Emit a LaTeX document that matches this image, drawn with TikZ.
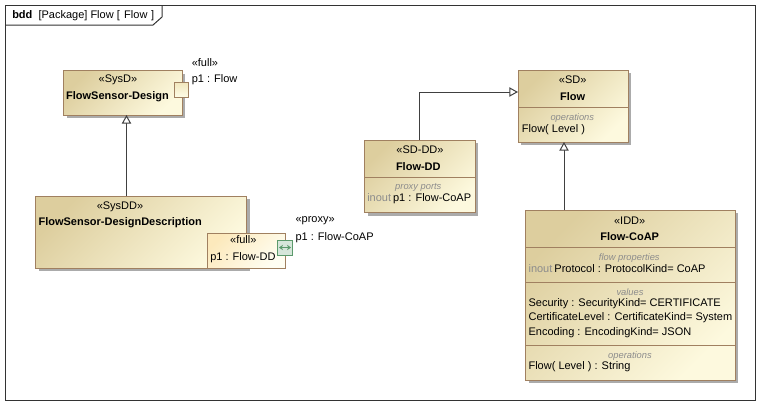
\documentclass[tikz,border=0pt]{standalone}
\usepackage{fontspec}
\setmainfont{Liberation Sans}
\usetikzlibrary{arrows.meta,shadows}
\definecolor{boxline}{HTML}{A08060}
\definecolor{tanA}{HTML}{DDCE9E}
\definecolor{tanB}{HTML}{FDF9DE}
\definecolor{partA}{HTML}{FCE9BC}
\definecolor{partB}{HTML}{FFFEF2}
\definecolor{portA}{HTML}{F1E6BC}
\definecolor{portB}{HTML}{FEFCE6}
\definecolor{portline}{HTML}{5C9A6C}
\tikzset{
  block/.style={draw=boxline,line width=.75pt,inner sep=0pt,outer sep=0pt,
    top color=tanA,bottom color=tanB,shading angle=45,
    drop shadow={shadow xshift=2.25pt,shadow yshift=-2.25pt,fill=black!33,opacity=1}},
  part/.style={draw=boxline,line width=.75pt,inner sep=0pt,outer sep=0pt,
    top color=partA,bottom color=partB,shading angle=45},
  stereo/.style={inner sep=0pt,yshift=-.5pt,font=\fontsize{8.25}{10}\selectfont},
  ttl/.style={stereo,font=\fontsize{8.25}{10}\selectfont\bfseries},
  member/.style={stereo,anchor=west},
  cmpt/.style={stereo,text=black!45,font=\fontsize{7}{9}\selectfont\itshape},
  divide/.style={draw=boxline,line width=.75pt},
  gen/.style={draw=black!75,line width=.75pt,-{Triangle[open,fill=white,length=6.5pt,width=7pt]}}
}
\newcommand{\io}{\textcolor{black!45}{inout}\hspace{1.5pt}}
\begin{document}
\begin{tikzpicture}[x=.75pt,y=-.75pt]
  \useasboundingbox (0,0) rectangle (760,405);
  % frame
  \draw[black!80,line width=.75pt] (5.5,5.5) rectangle (755,400);
  \draw[black!80,line width=.75pt] (5.5,25) -- (153,25) -- (162,17) -- (162,5.5);
  \node[member] (frameTitle) at (12,14.5) {\textbf{bdd}\; [Package] Flow [\hspace{1pt} Flow\hspace{.5pt} ]};

  % left side
  \node[block,minimum width=118.5*.75pt,minimum height=44.5*.75pt] (design) at (122.75,92.75) {};
  \node[part,top color=portA,bottom color=portB,minimum width=14.5*.75pt,minimum height=15*.75pt] (designPort) at (181.25,89.5) {};
  \node[stereo] (designS) at (118,79.5) {«SysD»};
  \node[ttl] (designT) at (117.5,96) {FlowSensor-Design};
  \node[member] (portS) at (191.5,61.5) {«full»};
  \node[member] (portT) at (191.5,78.5) {p1 : Flow};

  \node[block,minimum width=211*.75pt,minimum height=72*.75pt] (sysdd) at (141,232) {};
  \node[stereo] (sysddS) at (120,205.7) {«SysDD»};
  \node[member,font=\fontsize{8.25}{10}\selectfont\bfseries] (sysddT) at (38.3,222.3) {FlowSensor-DesignDescription};
  \node[part,minimum width=78*.75pt,minimum height=35*.75pt] (fullPart) at (246.5,250.5) {};
  \node[stereo] (fullS) at (243.3,239.3) {«full»};
  \node[member] (fullT) at (210,256.7) {p1 : Flow-DD};
  \node[draw=portline,line width=.75pt,fill=portline!25,minimum width=15.5*.75pt,minimum height=15*.75pt,inner sep=0pt] (proxyPort) at (285,247.5) {};
  \draw[portline,line width=.6pt,{Stealth[length=3pt,width=4pt]}-{Stealth[length=3pt,width=4pt]}] ([xshift=-4.5pt]proxyPort.center) -- ([xshift=4.5pt]proxyPort.center);
  \node[member] (proxyS) at (295.3,220) {«proxy»};
  \node[member] (proxyT) at (295.3,236.7) {p1 : Flow-CoAP};

  % middle
  \node[block,minimum width=110.5*.75pt,minimum height=72.5*.75pt] (flowdd) at (419.75,176.35) {};
  \draw[divide] (flowdd.west |- 0,177) -- (flowdd.east |- 0,177);
  \node[stereo] (flowddS) at (420,149.3) {«SD-DD»};
  \node[ttl] (flowddT) at (418.3,166) {Flow-DD};
  \node[cmpt] (flowddC) at (418.3,187) {proxy ports};
  \node[member] (flowddM) at (367,198.3) {\io p1 : Flow-CoAP};

  % right side
  \node[block,minimum width=110*.75pt,minimum height=72*.75pt] (flow) at (573,106) {};
  \draw[divide] (flow.west |- 0,107) -- (flow.east |- 0,107);
  \node[stereo] (flowS) at (572.7,79.3) {«SD»};
  \node[ttl] (flowT) at (572.7,96) {Flow};
  \node[cmpt] (flowC) at (572.3,117) {operations};
  \node[member] (flowM) at (521.7,128.7) {Flow( Level )};

  \node[block,minimum width=209.5*.75pt,minimum height=170*.75pt] (coap) at (630.25,295) {};
  \foreach \y in {247,282,345}
    \draw[divide] (coap.west |- 0,\y) -- (coap.east |- 0,\y);
  \node[stereo] (coapS) at (629.7,219.7) {«IDD»};
  \node[ttl] (coapT) at (629.7,236) {Flow-CoAP};
  \node[cmpt] (coapC1) at (629.3,257) {flow properties};
  \node[member] (coapM1) at (528.3,268) {\io Protocol : ProtocolKind= CoAP};
  \node[cmpt] (coapC2) at (630,291.7) {values};
  \node[member] (coapM2) at (528.3,303.3) {Security : SecurityKind= CERTIFICATE};
  \node[member] (coapM3) at (528.3,317.3) {CertificateLevel : CertificateKind= System};
  \node[member] (coapM4) at (528.3,331.7) {Encoding : EncodingKind= JSON};
  \node[cmpt] (coapC3) at (630,355) {operations};
  \node[member] (coapM5) at (528.3,366.3) {Flow( Level ) : String};

  % generalizations
  \coordinate (genA) at (126.5,0);
  \coordinate (genB) at (0,92);
  \coordinate (genC) at (564,0);
  \draw[gen] (sysdd.north -| genA) -- (design.south -| genA);
  \draw[gen] (flowdd.north) |- (flow.west |- genB);
  \draw[gen] (coap.north -| genC) -- (flow.south -| genC);
\end{tikzpicture}
\end{document}
